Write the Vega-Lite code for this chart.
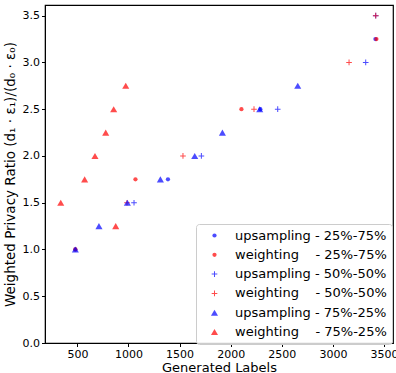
{
  "$schema": "https://vega.github.io/schema/vega-lite/v6.json",
  "width": 348,
  "height": 338,
  "autosize": "none",
  "padding": {"left": 45, "top": 5, "right": 3, "bottom": 30},
  "config": {
    "font": "DejaVu Sans",
    "view": {"stroke": "black", "strokeWidth": 1.2},
    "axis": {
      "grid": false,
      "domainColor": "black",
      "tickColor": "black",
      "tickSize": 3.5,
      "labelFontSize": 11,
      "labelColor": "black",
      "labelFont": "DejaVu Sans",
      "titleFont": "DejaVu Sans",
      "titleFontSize": 13,
      "titleFontWeight": "normal",
      "titleColor": "black"
    },
    "legend": {
      "orient": "none",
      "legendX": 151,
      "legendY": 219,
      "padding": 5,
      "strokeColor": "#cccccc",
      "fillColor": "rgba(255,255,255,0.8)",
      "cornerRadius": 3,
      "labelFont": "DejaVu Sans",
      "labelFontSize": 13,
      "labelColor": "black",
      "labelLimit": 300,
      "symbolOffset": 7,
      "labelOffset": 14,
      "rowPadding": 5.3,
      "symbolOpacity": 0.7,
      "symbolStrokeWidth": 0
    }
  },
  "data": {
    "values": [
      {"series": "upsampling - 25%-75%", "x": 480, "y": 1.0},
      {"series": "upsampling - 25%-75%", "x": 1386, "y": 1.75},
      {"series": "upsampling - 25%-75%", "x": 2290, "y": 2.5},
      {"series": "upsampling - 25%-75%", "x": 3416, "y": 3.25},
      {"series": "weighting\u00a0\u00a0\u00a0\u00a0- 25%-75%", "x": 480, "y": 1.0},
      {"series": "weighting\u00a0\u00a0\u00a0\u00a0- 25%-75%", "x": 1068, "y": 1.75},
      {"series": "weighting\u00a0\u00a0\u00a0\u00a0- 25%-75%", "x": 2105, "y": 2.5},
      {"series": "weighting\u00a0\u00a0\u00a0\u00a0- 25%-75%", "x": 3426, "y": 3.25},
      {"series": "upsampling - 50%-50%", "x": 1054, "y": 1.5},
      {"series": "upsampling - 50%-50%", "x": 1713, "y": 2.0},
      {"series": "upsampling - 50%-50%", "x": 2460, "y": 2.5},
      {"series": "upsampling - 50%-50%", "x": 3321, "y": 3.0},
      {"series": "upsampling - 50%-50%", "x": 3419, "y": 3.5},
      {"series": "weighting\u00a0\u00a0\u00a0\u00a0- 50%-50%", "x": 985, "y": 1.5},
      {"series": "weighting\u00a0\u00a0\u00a0\u00a0- 50%-50%", "x": 1533, "y": 2.0},
      {"series": "weighting\u00a0\u00a0\u00a0\u00a0- 50%-50%", "x": 2228, "y": 2.5},
      {"series": "weighting\u00a0\u00a0\u00a0\u00a0- 50%-50%", "x": 3158, "y": 3.0},
      {"series": "weighting\u00a0\u00a0\u00a0\u00a0- 50%-50%", "x": 3419, "y": 3.5},
      {"series": "upsampling - 75%-25%", "x": 480, "y": 1.0},
      {"series": "upsampling - 75%-25%", "x": 711, "y": 1.25},
      {"series": "upsampling - 75%-25%", "x": 989, "y": 1.5},
      {"series": "upsampling - 75%-25%", "x": 1312, "y": 1.75},
      {"series": "upsampling - 75%-25%", "x": 1648, "y": 2.0},
      {"series": "upsampling - 75%-25%", "x": 1919, "y": 2.25},
      {"series": "upsampling - 75%-25%", "x": 2284, "y": 2.5},
      {"series": "upsampling - 75%-25%", "x": 2656, "y": 2.75},
      {"series": "weighting\u00a0\u00a0\u00a0\u00a0- 75%-25%", "x": 337, "y": 1.5},
      {"series": "weighting\u00a0\u00a0\u00a0\u00a0- 75%-25%", "x": 571, "y": 1.75},
      {"series": "weighting\u00a0\u00a0\u00a0\u00a0- 75%-25%", "x": 672, "y": 2.0},
      {"series": "weighting\u00a0\u00a0\u00a0\u00a0- 75%-25%", "x": 777, "y": 2.25},
      {"series": "weighting\u00a0\u00a0\u00a0\u00a0- 75%-25%", "x": 855, "y": 2.5},
      {"series": "weighting\u00a0\u00a0\u00a0\u00a0- 75%-25%", "x": 973, "y": 2.75},
      {"series": "weighting\u00a0\u00a0\u00a0\u00a0- 75%-25%", "x": 875, "y": 1.25}
    ]
  },
  "mark": {"type": "point", "filled": true, "opacity": 0.7, "strokeWidth": 0},
  "encoding": {
    "x": {
      "field": "x",
      "type": "quantitative",
      "scale": {"domain": [183, 3588], "nice": false, "zero": false},
      "axis": {"values": [500, 1000, 1500, 2000, 2500, 3000, 3500], "format": "d", "title": "Generated Labels", "labelPadding": 2, "titlePadding": 2}
    },
    "y": {
      "field": "y",
      "type": "quantitative",
      "scale": {"domain": [0, 3.614], "nice": false, "zero": false},
      "axis": {"values": [0, 0.5, 1, 1.5, 2, 2.5, 3, 3.5], "format": ".1f", "title": "Weighted Privacy Ratio (d₁ · ε₁)/(d₀ · ε₀)", "titleFontSize": 13.5, "labelPadding": 2, "titlePadding": 5}
    },
    "color": {
      "field": "series",
      "type": "nominal",
      "sort": null,
      "scale": {
        "domain": ["upsampling - 25%-75%", "weighting\u00a0\u00a0\u00a0\u00a0- 25%-75%", "upsampling - 50%-50%", "weighting\u00a0\u00a0\u00a0\u00a0- 50%-50%", "upsampling - 75%-25%", "weighting\u00a0\u00a0\u00a0\u00a0- 75%-25%"],
        "range": ["#0000ff", "#ff0000", "#0000ff", "#ff0000", "#0000ff", "#ff0000"]
      },
      "legend": {"title": null}
    },
    "shape": {
      "field": "series",
      "type": "nominal",
      "sort": null,
      "scale": {
        "domain": ["upsampling - 25%-75%", "weighting\u00a0\u00a0\u00a0\u00a0- 25%-75%", "upsampling - 50%-50%", "weighting\u00a0\u00a0\u00a0\u00a0- 50%-50%", "upsampling - 75%-25%", "weighting\u00a0\u00a0\u00a0\u00a0- 75%-25%"],
        "range": ["circle", "circle", "M-1,-0.18H1V0.18H-1Z M-0.18,-1H0.18V1H-0.18Z", "M-1,-0.18H1V0.18H-1Z M-0.18,-1H0.18V1H-0.18Z", "triangle-up", "triangle-up"]
      },
      "legend": {"title": null}
    },
    "size": {
      "field": "series",
      "type": "nominal",
      "sort": null,
      "scale": {
        "type": "ordinal",
        "domain": ["upsampling - 25%-75%", "weighting\u00a0\u00a0\u00a0\u00a0- 25%-75%", "upsampling - 50%-50%", "weighting\u00a0\u00a0\u00a0\u00a0- 50%-50%", "upsampling - 75%-25%", "weighting\u00a0\u00a0\u00a0\u00a0- 75%-25%"],
        "range": [18, 18, 32, 32, 50, 50]
      },
      "legend": {"title": null}
    }
  }
}
